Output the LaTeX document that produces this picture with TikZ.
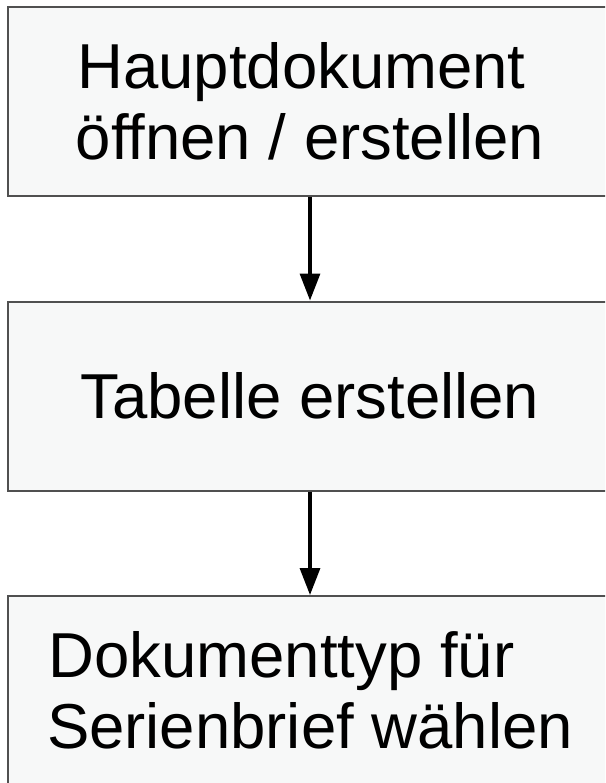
\documentclass[tikz,border=0pt]{standalone}
\usepackage{fontspec}
\setmainfont{Liberation Sans}
\usetikzlibrary{arrows.meta}

\definecolor{kasten}{HTML}{F7F8F8}
\definecolor{rand}{HTML}{505050}

\tikzset{
  schritt/.style={draw=rand, line width=2pt, fill=kasten, rectangle,
    minimum width=604pt, minimum height=189pt, align=center,
    font=\fontsize{63.5}{71}\selectfont, inner sep=0pt},
  pfeil/.style={line width=3.3pt, -{Triangle[length=27pt,width=20pt]}}
}
% Leerraum am Zeilenende, damit die erste Zeile etwas links steht
\newcommand{\zeilenende}[1]{\rule{#1}{0pt}}

\begin{document}
\begin{tikzpicture}[x=1pt, y=1pt]
        \useasboundingbox (0, 0) rectangle (605, -783);
        \clip (0, 0) rectangle (605, -783);

        % die drei Arbeitsschritte
        \node[schritt] (hauptdok) at (310, -101.5) {Hauptdokument\zeilenende{17pt}\\öffnen / erstellen};
        \node[schritt] (tabelle) at (310, -396) {Tabelle erstellen};
        \node[schritt] (doktyp) at (310, -690.5) {Dokumenttyp für\zeilenende{57pt}\\Serienbrief wählen};

        \draw[pfeil] (hauptdok) -- (tabelle);
        \draw[pfeil] (tabelle) -- (doktyp);
    \end{tikzpicture}
\end{document}
